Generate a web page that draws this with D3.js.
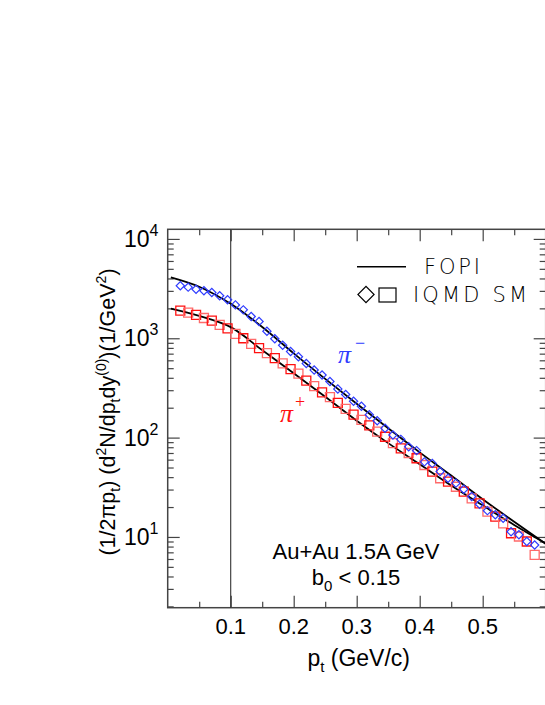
<!DOCTYPE html>
<html>
<head>
<meta charset="utf-8">
<script src="https://cdn.jsdelivr.net/npm/d3@7"></script>
<style>
  body { margin: 0; background: #fff; }
  text { font-family: "Liberation Sans", Arial, Helvetica, sans-serif; }
</style>
</head>
<body>
<script>

// IQMD SM points (pt grid shared by both pions)
const ptGrid = [0.02, 0.0325, 0.045, 0.0575, 0.07, 0.0825, 0.095, 0.1075, 0.12, 0.1325,
  0.145, 0.1575, 0.17, 0.1825, 0.195, 0.2075, 0.22, 0.2325, 0.245, 0.2575,
  0.27, 0.2825, 0.295, 0.3075, 0.32, 0.3325, 0.345, 0.3575, 0.37, 0.3825,
  0.395, 0.4075, 0.42, 0.4325, 0.445, 0.4575, 0.47, 0.4825, 0.495, 0.5075,
  0.52, 0.5325, 0.545, 0.5575, 0.57, 0.5825];

const piMinusIQMD = [3375, 3270, 3120, 3006, 2884, 2680, 2438, 2168, 1932, 1656,
  1472, 1175, 989, 851, 735, 653, 556, 479, 427, 367,
  309, 272, 232, 207, 170, 148, 124, 106, 96, 81,
  74, 57, 55, 45.5, 39, 34.8, 30.2, 25.5, 21.3, 18.4,
  16.7, 15.4, 11.3, 10.5, 9.0, 8.3];

const piPlusIQMD = [1900, 1815, 1720, 1600, 1505, 1365, 1260, 1105, 1000, 880,
  795, 710, 630, 560, 490, 440, 375, 330, 285, 255,
  224, 195, 170, 151, 133, 115, 102, 88, 78, 70,
  62, 53, 45.5, 39, 36, 32, 28.6, 24.5, 21.8, 18,
  16, 13.7, 10.9, 10.1, 9.0, 6.6];

// FOPI fits
const fopiPt = [0.005, 0.05, 0.1, 0.15, 0.2, 0.25, 0.3, 0.35, 0.4, 0.45, 0.5, 0.55, 0.6];
const fopiPiMinus = [4100, 3300, 2220, 1300, 705, 390, 219, 124, 71, 41.5, 24, 14.2, 8.5];
const fopiPiPlus = [1990, 1680, 1295, 760, 445, 258, 148, 88, 54, 33, 20.8, 13.2, 8.6];

const xMajor = [0.1, 0.2, 0.3, 0.4, 0.5];
const xMinor = [0.05, 0.15, 0.25, 0.35, 0.45, 0.55];
const yDecades = [1, 2, 3, 4];

let width = 545, height = 705;
let margin = { top: 229.3, bottom: 97.3, left: 167.7, right: -0.7 };

let svg = d3.select('body')
  .append('svg')
  .attr('width', width)
  .attr('height', height);

let xScale = d3.scaleLinear()
  .domain([0, 0.6])
  .range([margin.left, width - margin.right]);

let yScale = d3.scaleLog()
  .domain([1.94, 12500])
  .range([height - margin.bottom, margin.top]);

let x0 = xScale.range()[0], x1 = xScale.range()[1];
let y0 = yScale.range()[0], y1 = yScale.range()[1];

// minor log ticks
let yMinor = [];
[1, 10, 100, 1000, 10000].forEach(dec => {
  for (let k = 2; k <= 9; k++) {
    let v = dec * k;
    if (v >= 1.94 && v <= 12500) yMinor.push(v);
  }
});
let yMajor = yDecades.map(e => Math.pow(10, e));

const axisColor = '#444';

// axes (ticks pointing inward)
svg.append('g')
  .attr('transform', `translate(0, ${y0})`)
  .call(d3.axisBottom(xScale).tickValues(xMinor).tickSize(-6).tickFormat(''));
svg.append('g')
  .attr('transform', `translate(0, ${y0})`)
  .call(d3.axisBottom(xScale).tickValues(xMajor).tickSize(-12).tickFormat(''));
svg.append('g')
  .attr('transform', `translate(0, ${y1})`)
  .call(d3.axisTop(xScale).tickValues(xMinor).tickSize(-6).tickFormat(''));
svg.append('g')
  .attr('transform', `translate(0, ${y1})`)
  .call(d3.axisTop(xScale).tickValues(xMajor).tickSize(-12).tickFormat(''));

svg.append('g')
  .attr('transform', `translate(${x0}, 0)`)
  .call(d3.axisLeft(yScale).tickValues(yMinor).tickSize(-6).tickFormat(''));
svg.append('g')
  .attr('transform', `translate(${x0}, 0)`)
  .call(d3.axisLeft(yScale).tickValues(yMajor).tickSize(-12).tickFormat(''));
svg.append('g')
  .attr('transform', `translate(${x1}, 0)`)
  .call(d3.axisRight(yScale).tickValues(yMinor).tickSize(-6).tickFormat(''));
svg.append('g')
  .attr('transform', `translate(${x1}, 0)`)
  .call(d3.axisRight(yScale).tickValues(yMajor).tickSize(-12).tickFormat(''));

svg.selectAll('.domain').remove();
svg.selectAll('.tick line').attr('stroke', axisColor).attr('stroke-width', 1.2);

// frame
svg.append('rect')
  .attr('x', x0).attr('y', y1)
  .attr('width', x1 - x0).attr('height', y0 - y1)
  .attr('fill', 'none')
  .attr('stroke', axisColor)
  .attr('stroke-width', 1.5);

// vertical line at pt = 0.1
svg.append('line')
  .attr('x1', xScale(0.1)).attr('x2', xScale(0.1))
  .attr('y1', y1).attr('y2', y0)
  .attr('stroke', '#333')
  .attr('stroke-width', 1.1);

// tick labels
svg.selectAll('.xlab')
  .data(xMajor)
  .enter()
  .append('text')
  .attr('x', d => xScale(d))
  .attr('y', y0 + 26)
  .attr('text-anchor', 'middle')
  .style('font-size', '22px')
  .text(d => d.toFixed(1));

yDecades.forEach(e => {
  let t = svg.append('text')
    .attr('x', 124)
    .attr('y', yScale(Math.pow(10, e)) + 8)
    .style('font-size', '23px');
  t.append('tspan').text('10');
  t.append('tspan').attr('dy', -11).style('font-size', '16px').text(e);
});

// axis titles
let xt = svg.append('text')
  .attr('x', (x0 + x1) / 2 + 2)
  .attr('y', 666)
  .attr('text-anchor', 'middle')
  .style('font-size', '23px');
xt.append('tspan').text('p');
xt.append('tspan').attr('dy', 6).style('font-size', '15px').text('t');
xt.append('tspan').attr('dy', -6).text(' (GeV/c)');

let yt = svg.append('text')
  .attr('transform', `translate(115, 412) rotate(-90)`)
  .attr('text-anchor', 'middle')
  .style('font-size', '21.5px');
yt.append('tspan').text('(1/2\u03c0p');
yt.append('tspan').attr('dy', 5).style('font-size', '14px').text('t');
yt.append('tspan').attr('dy', -5).text(') (d');
yt.append('tspan').attr('dy', -9).style('font-size', '14px').text('2');
yt.append('tspan').attr('dy', 9).text('N/dp');
yt.append('tspan').attr('dy', 5).style('font-size', '14px').text('t');
yt.append('tspan').attr('dy', -5).text('dy');
yt.append('tspan').attr('dy', -9).style('font-size', '14px').text('(0)');
yt.append('tspan').attr('dy', 9).text(')(1/GeV');
yt.append('tspan').attr('dy', -9).style('font-size', '14px').text('2');
yt.append('tspan').attr('dy', 9).text(')');

// FOPI curves
let line = d3.line()
  .x(d => xScale(d[0]))
  .y(d => yScale(d[1]))
  .curve(d3.curveCatmullRom.alpha(0.5));

[fopiPiMinus, fopiPiPlus].forEach(vals => {
  svg.append('path')
    .attr('fill', 'none')
    .attr('stroke', '#000')
    .attr('stroke-width', 1.8)
    .attr('d', line(fopiPt.map((p, i) => [p, vals[i]])));
});

// IQMD markers
let squareSym = d3.symbol().type(d3.symbolSquare).size(81);
let diamondSym = d3.symbol().type(d3.symbolSquare).size(34);

svg.selectAll('.sq')
  .data(ptGrid.map((p, i) => [p, piPlusIQMD[i], i]))
  .enter()
  .append('path')
  .attr('d', squareSym)
  .attr('transform', d => `translate(${xScale(d[0])}, ${yScale(d[1])})`)
  .attr('fill', 'none')
  .attr('stroke', d => d[2] % 2 ? '#ff6a6a' : '#ff1010')
  .attr('stroke-width', 1.3);

svg.selectAll('.dm')
  .data(ptGrid.map((p, i) => [p, piMinusIQMD[i]]))
  .enter()
  .append('path')
  .attr('d', diamondSym)
  .attr('transform', d => `translate(${xScale(d[0])}, ${yScale(d[1])}) rotate(45)`)
  .attr('fill', 'none')
  .attr('stroke', '#2f3cff')
  .attr('stroke-width', 1.2);

// pion labels
let pm = svg.append('text')
  .attr('x', 338).attr('y', 363)
  .style('font-family', '"Liberation Serif", serif')
  .style('font-style', 'italic')
  .style('font-size', '26px')
  .attr('fill', '#2f3cff');
pm.append('tspan').text('\u03c0');
pm.append('tspan').attr('dx', 4).attr('dy', -14).style('font-size', '18px').style('font-style', 'normal').text('\u2212');

let pp = svg.append('text')
  .attr('x', 280).attr('y', 422)
  .style('font-family', '"Liberation Serif", serif')
  .style('font-style', 'italic')
  .style('font-size', '26px')
  .attr('fill', '#ff1010');
pp.append('tspan').text('\u03c0');
pp.append('tspan').attr('dx', 2).attr('dy', -14).style('font-size', '18px').style('font-style', 'normal').text('+');

// legend
let legend = svg.append('g');
legend.append('line')
  .attr('x1', 357).attr('x2', 406)
  .attr('y1', 266.7).attr('y2', 266.7)
  .attr('stroke', '#000').attr('stroke-width', 1.5);
legend.append('text')
  .attr('x', 424).attr('y', 274)
  .attr('textLength', 56).attr('lengthAdjust', 'spacing')
  .style('font-family', '"DejaVu Sans", sans-serif')
  .style('font-weight', 200)
  .style('font-size', '21px')
  .text('FOPI');
legend.append('path')
  .attr('d', d3.symbol().type(d3.symbolSquare).size(130))
  .attr('transform', 'translate(366, 294.5) rotate(45)')
  .attr('fill', 'none').attr('stroke', '#000').attr('stroke-width', 1.2);
legend.append('rect')
  .attr('x', 379).attr('y', 288).attr('width', 17).attr('height', 14)
  .attr('fill', 'none').attr('stroke', '#000').attr('stroke-width', 1.2);
legend.append('text')
  .attr('x', 413).attr('y', 302)
  .attr('textLength', 114).attr('lengthAdjust', 'spacing')
  .style('font-family', '"DejaVu Sans", sans-serif')
  .style('font-weight', 200)
  .style('font-size', '21px')
  .text('IQMD SM');

// annotation
svg.append('text')
  .attr('x', 356).attr('y', 559)
  .attr('text-anchor', 'middle')
  .style('font-size', '22px')
  .text('Au+Au 1.5A GeV');
let bt = svg.append('text')
  .attr('x', 356).attr('y', 585)
  .attr('text-anchor', 'middle')
  .style('font-size', '22px');
bt.append('tspan').text('b');
bt.append('tspan').attr('dy', 6).style('font-size', '15px').text('0');
bt.append('tspan').attr('dy', -6).text(' < 0.15');

</script>
</body>
</html>
